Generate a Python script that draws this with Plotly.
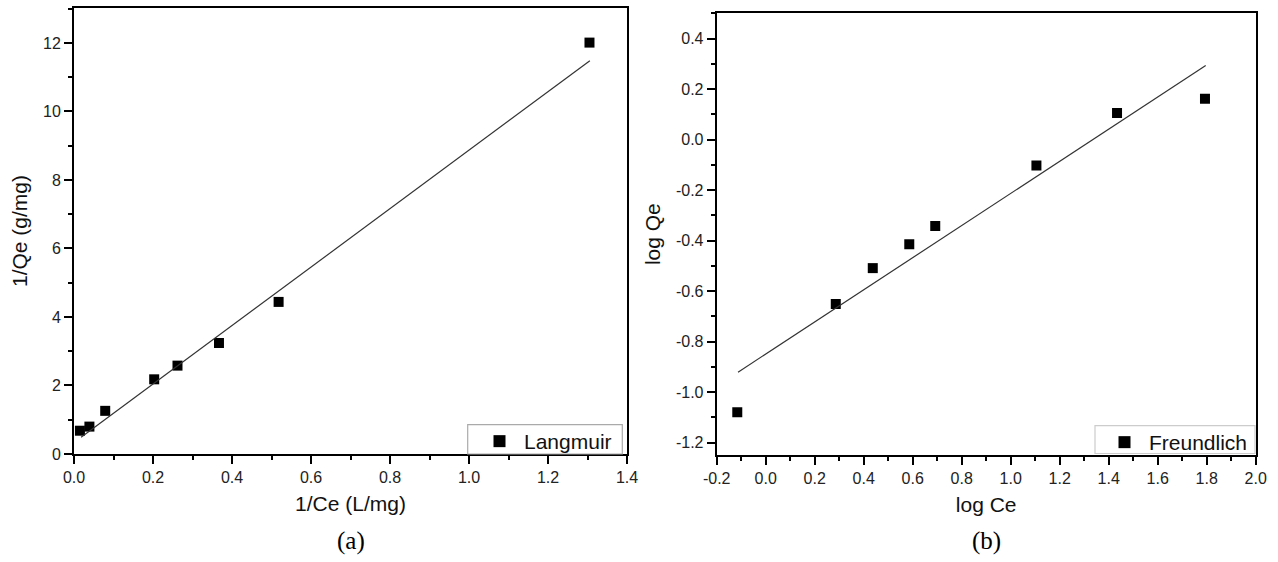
import plotly.graph_objects as go

# ---- Data (a) Langmuir ----
lang_x = [0.015, 0.039, 0.079, 0.203, 0.262, 0.367, 0.518, 1.305]
lang_y = [0.68, 0.80, 1.26, 2.18, 2.58, 3.24, 4.44, 12.01]
lang_fit_x = [0.018, 1.306]
lang_fit_y = [0.49, 11.48]

# ---- Data (b) Freundlich ----
freu_x = [-0.116, 0.286, 0.437, 0.586, 0.692, 1.105, 1.434, 1.793]
freu_y = [-1.080, -0.651, -0.509, -0.414, -0.342, -0.103, 0.105, 0.162]
freu_fit_x = [-0.113, 1.796]
freu_fit_y = [-0.921, 0.293]

lang_xticks = [0.0, 0.2, 0.4, 0.6, 0.8, 1.0, 1.2, 1.4]
lang_xticklabels = ["0.0", "0.2", "0.4", "0.6", "0.8", "1.0", "1.2", "1.4"]
lang_yticks = [0, 2, 4, 6, 8, 10, 12]
lang_right_ticks = [1, 3, 5, 7, 9, 11]
freu_xticks = [-0.2, 0.0, 0.2, 0.4, 0.6, 0.8, 1.0, 1.2, 1.4, 1.6, 1.8, 2.0]
freu_xticklabels = ["-0.2", "0.0", "0.2", "0.4", "0.6", "0.8", "1.0", "1.2", "1.4", "1.6", "1.8", "2.0"]
freu_yticks = [0.4, 0.2, 0.0, -0.2, -0.4, -0.6, -0.8, -1.0, -1.2]
freu_yticklabels = ["0.4", "0.2", "0.0", "-0.2", "-0.4", "-0.6", "-0.8", "-1.0", "-1.2"]

W, H = 1278, 562
FONT = "Liberation Sans, Arial, sans-serif"
TICKC = "#222222"

fig = go.Figure()

fig.add_trace(go.Scatter(x=lang_x, y=lang_y, mode="markers", name="Langmuir",
                         marker=dict(symbol="square", size=10, color="black"),
                         xaxis="x", yaxis="y", legend="legend"))
fig.add_trace(go.Scatter(x=lang_fit_x, y=lang_fit_y, mode="lines", showlegend=False,
                         line=dict(color="#333333", width=1.2), xaxis="x", yaxis="y"))
fig.add_trace(go.Scatter(x=freu_x, y=freu_y, mode="markers", name="Freundlich",
                         marker=dict(symbol="square", size=10, color="black"),
                         xaxis="x2", yaxis="y2", legend="legend2"))
fig.add_trace(go.Scatter(x=freu_fit_x, y=freu_fit_y, mode="lines", showlegend=False,
                         line=dict(color="#333333", width=1.2), xaxis="x2", yaxis="y2"))


def px_x(p):
    return p / W


def px_y(p):
    return 1 - p / H


common_axis = dict(showgrid=False, zeroline=False, showline=True, linecolor="black",
                   linewidth=2, mirror=True, ticks="outside", ticklen=8, tickwidth=1.5,
                   tickcolor="black", automargin=False,
                   tickfont=dict(family=FONT, size=16, color=TICKC),
                   title_font=dict(family=FONT, size=21, color="#111111"))

fig.update_layout(
    width=W, height=H, autosize=False,
    margin=dict(l=0, r=0, t=0, b=0),
    paper_bgcolor="white", plot_bgcolor="white",
    xaxis=dict(common_axis, domain=[px_x(74), px_x(627)], range=[0, 1.4],
               tickvals=lang_xticks, ticktext=lang_xticklabels, anchor="y",
               minor=dict(dtick=0.1, ticks="outside", ticklen=4, tickcolor="black", tickwidth=1.5),
               title=dict(text="1/Ce (L/mg)", standoff=11)),
    yaxis=dict(common_axis, domain=[px_y(454), px_y(8)], range=[0, 13.02],
               tickvals=lang_yticks, anchor="x",
               minor=dict(dtick=1, ticks="outside", ticklen=4, tickcolor="black", tickwidth=1.5),
               title=dict(text="1/Qe (g/mg)", standoff=10)),
    yaxis3=dict(overlaying="y", side="right", anchor="x", range=[0, 13.02],
                tickvals=lang_right_ticks, ticks="inside", ticklen=5, tickwidth=1.5,
                tickcolor="black", showticklabels=False, showgrid=False, zeroline=False,
                showline=False, automargin=False),
    xaxis2=dict(common_axis, domain=[px_x(716.7), px_x(1255.7)], range=[-0.2, 2.0],
                tickvals=freu_xticks, ticktext=freu_xticklabels, anchor="y2",
                minor=dict(dtick=0.1, tick0=-0.2, ticks="outside", ticklen=4, tickcolor="black", tickwidth=1.5),
                title=dict(text="log Ce", standoff=11)),
    yaxis2=dict(common_axis, domain=[px_y(455), px_y(13.3)], range=[-1.249, 0.5],
                tickvals=freu_yticks, ticktext=freu_yticklabels, anchor="x2",
                minor=dict(dtick=0.1, ticks="outside", ticklen=4, tickcolor="black", tickwidth=1.5),
                title=dict(text="log Qe", standoff=10)),
    legend=dict(x=px_x(475), y=px_y(421), xanchor="left", yanchor="top",
                bgcolor="rgba(0,0,0,0)", borderwidth=0, itemwidth=39,
                font=dict(family=FONT, size=21, color="#111111"), itemsizing="constant"),
    legend2=dict(x=px_x(1100), y=px_y(422), xanchor="left", yanchor="top",
                 bgcolor="rgba(0,0,0,0)", borderwidth=0, itemwidth=39,
                 font=dict(family=FONT, size=21, color="#111111"), itemsizing="constant"),
    shapes=[
        dict(type="rect", xref="paper", yref="paper", x0=px_x(467.7), x1=px_x(622.3),
             y0=px_y(454), y1=px_y(424.7), line=dict(color="#aaaaaa", width=1.2)),
        dict(type="rect", xref="paper", yref="paper", x0=px_x(1095), x1=px_x(1255),
             y0=px_y(453.5), y1=px_y(425.7), line=dict(color="#cccccc", width=1.2)),
    ],
    annotations=[
        dict(text="(a)", x=px_x(350.5), y=px_y(541), xref="paper", yref="paper",
             showarrow=False, xanchor="center", yanchor="middle",
             font=dict(family="Liberation Serif, Times New Roman, serif", size=25, color="black")),
        dict(text="(b)", x=px_x(986), y=px_y(541), xref="paper", yref="paper",
             showarrow=False, xanchor="center", yanchor="middle",
             font=dict(family="Liberation Serif, Times New Roman, serif", size=25, color="black")),
    ],
)

fig.write_html("out.html")
